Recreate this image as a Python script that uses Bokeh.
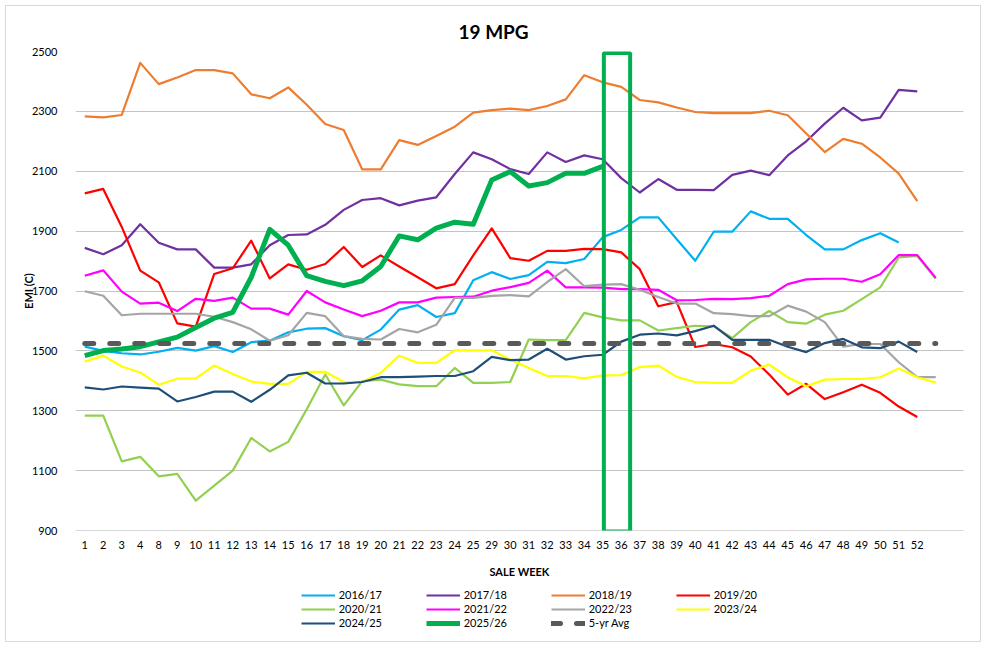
from bokeh.plotting import figure
from bokeh.layouts import column
from bokeh.models import Range1d, FixedTicker, Legend, LegendItem, BoxAnnotation, Title
from bokeh.embed import file_html
from bokeh.resources import INLINE

# ---------------- data ----------------
weeks = ["1", "2", "3", "4", "8", "9", "10", "11", "12", "13", "14", "15", "16", "17",
         "18", "19", "20", "21", "22", "23", "24", "25", "29", "30", "31", "32", "33",
         "34", "35", "36", "37", "38", "39", "40", "41", "42", "43", "44", "45", "46",
         "47", "48", "49", "50", "51", "52", "", ""]

y_ticks = [900, 1100, 1300, 1500, 1700, 1900, 2100, 2300, 2500]

s2016_17 = [1514, 1500, 1492, 1488, 1497, 1510, 1501, 1516, 1496, 1529,
            1534, 1562, 1574, 1576, 1549, 1536, 1571, 1638, 1653, 1613,
            1626, 1736, 1763, 1740, 1753, 1797, 1793, 1807, 1880, 1904,
            1946, 1946, 1873, 1801, 1898, 1898, 1966, 1941, 1941, 1887,
            1839, 1839, 1870, 1893, 1862]

s2017_18 = [1844, 1823, 1853, 1923, 1861, 1839, 1839, 1778, 1778, 1789,
            1853, 1887, 1889, 1921, 1971, 2004, 2010, 1986, 2002, 2013,
            2091, 2163, 2140, 2107, 2091, 2163, 2131, 2153, 2140, 2077,
            2029, 2074, 2038, 2038, 2037, 2088, 2102, 2087, 2153, 2200,
            2259, 2312, 2270, 2279, 2372, 2367]

s2018_19 = [2283, 2280, 2288, 2462, 2391, 2413, 2438, 2438, 2427, 2357,
            2344, 2380, 2322, 2258, 2238, 2106, 2106, 2204, 2188, 2218,
            2249, 2296, 2304, 2309, 2304, 2318, 2340, 2421, 2397, 2382,
            2338, 2330, 2313, 2298, 2294, 2294, 2294, 2302, 2287, 2226,
            2164, 2208, 2192, 2146, 2092, 2000]

s2019_20 = [2026, 2041, 1914, 1768, 1729, 1592, 1581, 1757, 1776, 1868,
            1742, 1789, 1771, 1790, 1847, 1780, 1819, 1782, 1746, 1709,
            1723, 1819, 1909, 1810, 1801, 1834, 1834, 1841, 1840, 1829,
            1773, 1649, 1663, 1513, 1523, 1512, 1481, 1421, 1354, 1390,
            1339, 1362, 1387, 1360, 1314, 1279]

s2020_21 = [1284, 1284, 1131, 1146, 1081, 1089, 1000, 1050, 1100, 1209,
            1164, 1196, 1305, 1421, 1318, 1399, 1404, 1388, 1382, 1382,
            1443, 1393, 1393, 1396, 1538, 1536, 1536, 1627, 1612, 1602,
            1602, 1568, 1576, 1584, 1582, 1543, 1596, 1633, 1596, 1591,
            1621, 1634, 1673, 1712, 1812, 1817, 1741]

s2021_22 = [1751, 1769, 1698, 1658, 1661, 1633, 1674, 1667, 1678, 1641,
            1641, 1621, 1700, 1662, 1638, 1616, 1634, 1662, 1662, 1678,
            1680, 1681, 1701, 1713, 1727, 1768, 1712, 1712, 1711, 1706,
            1706, 1704, 1669, 1670, 1674, 1673, 1676, 1684, 1723, 1739,
            1741, 1741, 1731, 1756, 1820, 1820, 1744]

s2022_23 = [1699, 1684, 1619, 1624, 1624, 1624, 1624, 1614, 1596, 1572,
            1534, 1552, 1627, 1616, 1549, 1540, 1538, 1573, 1562, 1587,
            1677, 1677, 1684, 1686, 1682, 1730, 1773, 1716, 1721, 1723,
            1704, 1680, 1658, 1658, 1626, 1623, 1616, 1616, 1651, 1631,
            1596, 1514, 1523, 1523, 1462, 1412, 1412]

s2023_24 = [1464, 1484, 1448, 1428, 1387, 1407, 1408, 1451, 1423, 1398,
            1390, 1390, 1430, 1430, 1396, 1396, 1427, 1484, 1460, 1460,
            1502, 1502, 1502, 1471, 1443, 1416, 1416, 1408, 1418, 1419,
            1446, 1451, 1413, 1396, 1393, 1393, 1434, 1454, 1412, 1382,
            1404, 1406, 1406, 1412, 1441, 1412, 1394]

s2024_25 = [1378, 1371, 1381, 1377, 1374, 1331, 1346, 1364, 1364, 1330,
            1370, 1418, 1427, 1391, 1391, 1396, 1412, 1412, 1414, 1416,
            1416, 1432, 1480, 1469, 1471, 1507, 1471, 1482, 1487, 1531,
            1554, 1558, 1552, 1566, 1584, 1537, 1537, 1537, 1514, 1496,
            1526, 1540, 1512, 1509, 1531, 1496]

s2025_26 = [1484, 1501, 1506, 1514, 1530, 1546, 1578, 1609, 1629, 1746,
            1906, 1853, 1751, 1732, 1718, 1734, 1782, 1884, 1871, 1910,
            1930, 1923, 2071, 2099, 2051, 2062, 2093, 2093, 2116]

avg_5yr = [1525, 1525, 1525, 1525, 1525, 1525, 1525, 1525, 1525, 1525,
           1525, 1525, 1525, 1525, 1525, 1525, 1525, 1525, 1525, 1525,
           1525, 1525, 1525, 1525, 1525, 1525, 1525, 1525, 1525, 1525,
           1525, 1525, 1525, 1525, 1525, 1525, 1525, 1525, 1525, 1525,
           1525, 1525, 1525, 1525, 1525, 1525, 1525]

highlight_weeks = ["35", "36"]

# ---------------- styles ----------------
FONT = "Lato"
series = [
    ("2016/17", s2016_17, "#00B0F0", 2.2, None),
    ("2017/18", s2017_18, "#7030A0", 2.2, None),
    ("2018/19", s2018_19, "#ED7D31", 2.2, None),
    ("2019/20", s2019_20, "#FF0000", 2.2, None),
    ("2020/21", s2020_21, "#92D050", 2.2, None),
    ("2021/22", s2021_22, "#FF00FF", 2.2, None),
    ("2022/23", s2022_23, "#A5A5A5", 2.2, None),
    ("2023/24", s2023_24, "#FFFF00", 2.2, None),
    ("2024/25", s2024_25, "#1F4E79", 2.2, None),
    ("2025/26", s2025_26, "#00B050", 5.0, None),
    ("5-yr Avg", avg_5yr, "#595959", 5.0, "9 16"),
]

W = 974
p = figure(width=W, height=574, output_backend="svg", toolbar_location=None,
           x_range=Range1d(-0.5, len(weeks) - 0.5), y_range=Range1d(900, 2500),
           min_border_left=69, min_border_right=17, min_border_top=45,
           min_border_bottom=49, title=None)
p.outline_line_color = None
p.background_fill_color = "white"
p.border_fill_color = "white"

# grid
p.xgrid.grid_line_color = None
p.ygrid.grid_line_color = "#C4C4C4"
p.ygrid.grid_line_width = 1
p.ygrid.ticker = FixedTicker(ticks=y_ticks)

# axes
p.yaxis.ticker = FixedTicker(ticks=y_ticks)
p.yaxis.axis_line_color = None
p.yaxis.major_tick_line_color = None
p.yaxis.minor_tick_line_color = None
p.yaxis.major_label_standoff = 12
p.yaxis.major_label_text_font = FONT
p.yaxis.major_label_text_font_size = "11px"
p.yaxis.major_label_text_color = "#000000"
p.yaxis.axis_label = "EMI (C)"
p.yaxis.axis_label_text_font = FONT
p.yaxis.axis_label_text_font_size = "11px"
p.yaxis.axis_label_text_font_style = "bold"
p.yaxis.axis_label_text_color = "#000000"
p.yaxis.axis_label_standoff = -6

labelled = [i for i, w in enumerate(weeks) if w != ""]
p.xaxis.ticker = FixedTicker(ticks=labelled)
p.xaxis.major_label_overrides = {i: weeks[i] for i in labelled}
p.xaxis.axis_line_color = "#D9D9D9"
p.xaxis.major_tick_line_color = None
p.xaxis.minor_tick_line_color = None
p.xaxis.major_label_standoff = 4
p.xaxis.major_label_text_font = FONT
p.xaxis.major_label_text_font_size = "11px"
p.xaxis.major_label_text_color = "#000000"
p.xaxis.axis_label = "SALE WEEK"
p.xaxis.axis_label_text_font = FONT
p.xaxis.axis_label_text_font_size = "11px"
p.xaxis.axis_label_text_font_style = "bold"
p.xaxis.axis_label_text_color = "#000000"
p.xaxis.axis_label_standoff = 13

# legend figure below the chart (its frame is aligned with the chart frame)
legend_fig = figure(width=W, height=61, output_backend="svg", toolbar_location=None,
                    x_axis_location=None, y_axis_location=None, min_border=0,
                    x_range=Range1d(1000, 1001), y_range=Range1d(0, 1))
legend_fig.outline_line_color = None
legend_fig.xgrid.grid_line_color = None
legend_fig.ygrid.grid_line_color = None

items = []
for name, vals, color, width, dash in series:
    xs = list(range(len(vals)))
    kw = {}
    if dash:
        kw["line_dash"] = dash
        kw["line_cap"] = "round"
    p.line(xs, vals, line_color=color, line_width=width, line_join="round", **kw)
    # same series in the legend figure (outside its view) just for the legend key
    proxy = legend_fig.line(xs, vals, line_color=color, line_width=width, **kw)
    items.append(LegendItem(label=name, renderers=[proxy]))

# highlight box around weeks 35-36
i0 = weeks.index(highlight_weeks[0])
i1 = weeks.index(highlight_weeks[1])
box = BoxAnnotation(left=i0 + 0.06, right=i1 + 0.48, bottom=897, top=2495,
                    fill_alpha=0, line_color="#00B050", line_width=4, line_alpha=1)
p.add_layout(box)

legend = Legend(items=items, orientation="horizontal", ncols=4,
                location=(225.7, 11.3), padding=0, margin=0, spacing=0,
                glyph_width=34, glyph_height=14, label_height=14, label_width=87,
                label_standoff=4, label_text_font=FONT, label_text_font_size="11px",
                label_text_color="#000000", border_line_color=None,
                background_fill_alpha=0)
legend_fig.add_layout(legend, "center")

# title
t = Title(text="19 MPG", align="left", offset=383, text_font=FONT,
          text_font_size="19px", text_font_style="bold", text_color="#000000",
          standoff=17)
p.add_layout(t, "above")

layout = column(p, legend_fig, spacing=0,
                styles={"border": "1px solid #D9D9D9", "margin-left": "5px",
                        "margin-top": "5px"})

open("out.html", "w").write(file_html(layout, INLINE))
